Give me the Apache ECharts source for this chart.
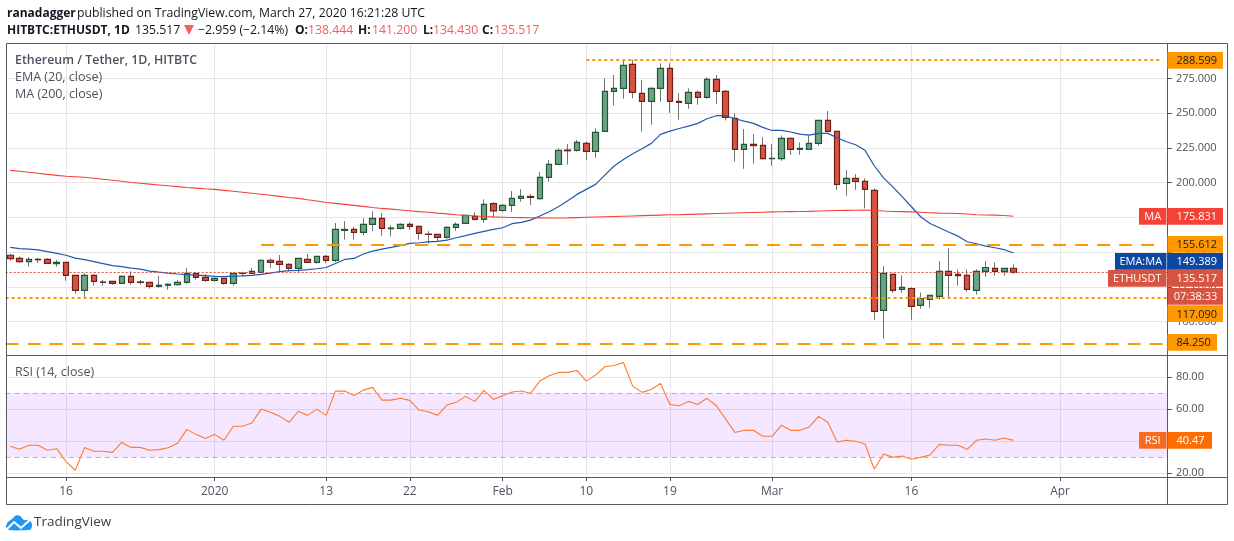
<!DOCTYPE html>
<html><head><meta charset="utf-8"><style>html,body{margin:0;padding:0;background:#fff}#c{width:1234px;height:541px}</style>
<script src="https://cdn.jsdelivr.net/npm/echarts@6/dist/echarts.min.js"></script></head><body><div id="c"></div>
<script>
const opens=[147.8,145.6,143.2,144.9,144.9,141.8,142.7,133.4,122.6,133.4,128.3,129,127.6,132.6,128.6,128.3,125.4,126.2,126.6,128.3,134.8,131.9,129.8,131.2,127.6,135,134.8,135.5,144.2,143.4,141.3,138.4,144.8,142.7,147,144.1,165.7,166.4,164.3,170,174.3,166.9,167.1,170,168.6,163,162.8,160.7,167.9,170.7,175.8,173.6,184.9,180,183.7,188.7,190.1,188.5,203.8,213.2,223.5,223.3,228.3,222.5,236.9,265.7,267.9,285.1,264.3,258.5,267.9,282.3,258.5,257.1,265,261.4,274.3,265.7,246.3,224,227.6,226.9,217.3,217.3,231.9,224,224,228.3,244.9,236.9,199.5,203.1,201,194.5,108.1,134,123.2,123.9,111.7,116,118.2,136.2,134,133.3,122.5,136.2,138.3,136.2,138.444];
const closes=[145.4,143.2,144.9,144.6,142,142.7,133.4,122.6,133.4,129,128.6,127.6,132.6,128.3,128.3,125.4,126.2,126.9,128.3,134.8,131.9,129.8,131.2,127.6,134.8,134.8,136.2,144.2,142.7,141.3,138.4,145.6,142.7,147,144.1,166.4,166.4,164.3,170,174.3,167.1,167.4,170,168.6,163.5,162.8,160.7,167.9,170,176.5,173.6,184.4,179.8,183.7,188.7,190.1,189.4,203.8,213.2,223.3,223,229,222.5,236.2,265.7,267.9,284.4,265,258.5,267.9,282.3,258.5,257.8,265,261.4,274.3,265.7,247,224,227.6,226.6,217.3,217.5,231.9,224,224.7,228.3,244.9,236.9,198.8,203.1,201,195.2,107.4,134.7,122.5,124.7,111,116.7,118.9,136.2,133.3,133.1,123.2,136.2,139,136.2,138.3,135.517];
const lows=[143.9,142.5,139.6,142.2,141.8,139.6,129.5,120.2,117.3,125.9,125.9,126.6,127.6,126.6,126.6,123.8,124.5,123,125.9,127.4,130.2,128.8,128.8,126.6,125.9,132.4,134.8,134.8,138.6,136.2,136.2,135,142.2,141.7,142.2,142.9,159,159,162.1,165,161.9,161.4,166.4,166.2,159,156.3,158,159.7,165.5,170.3,172.9,171.2,175,179.1,178.9,186.3,183.9,187.7,200.7,212.9,212.9,222.3,216.3,218,236.9,255.4,260.4,260.7,236.7,241.7,258.3,250.3,245.3,253.2,256.1,260.4,256.8,244.8,215.1,210,213.7,216.8,212.2,215.8,220.1,220.1,223.7,226.6,236.2,194.9,190.6,194.9,181.5,101.4,87.7,120.6,120.8,101.4,109.3,110,116,116.7,125.9,121.5,119.4,132.3,133.1,133.1,134.43];
const highs=[148.7,147,146.3,145.8,145.6,144.4,142.7,133.4,135,134.1,130,129.3,133.4,136.2,130,128.3,132.9,127.6,130,138.6,134.8,134.1,131.7,131.2,134.8,136,138.6,144.9,145.6,148,142,145.6,148.7,147,147.9,171,172.4,168.1,174.3,179.4,178.2,169.3,170.7,171.5,168.6,165.2,162.8,168.6,171.5,176.7,178.7,188,186.1,184.6,194,195.4,191.8,207.7,216.3,224.7,227.8,230.7,229.7,239.1,275,277.5,288.3,288.6,273.9,268.6,285.9,285.9,264.5,267.9,266.4,275.8,277.5,266.7,249.9,238.6,235,232.8,227.8,234,232.4,229,234,244.9,251.6,236.9,209.1,206.2,203.1,196,140,134.7,133.3,124.7,121,119.1,143.6,152.7,137.6,137.6,137.6,143.6,142.7,138.3,141.2];
const ema=[153.5,152.6,152.2,151.7,150.4,149.2,147.8,145.7,144.6,143.2,141.8,140.4,139.6,138.6,137.8,136.4,135.6,134.9,134.3,133.9,133.5,133.1,132.6,132.5,132.8,133,133.3,134,135,136,136.7,136.9,137.4,138.1,139,141.9,144.8,145.5,148.7,150.8,152.2,153.5,154.7,156.3,156.8,157.5,157.8,158.7,160.4,161.9,163.5,165,166.4,167.6,170.5,171.5,173.1,176,179.1,182.7,187,191.6,195.2,198.8,205.5,212,216.7,220.8,224.4,228.3,234.8,237.1,239,240.7,242.7,246,248.2,248.2,246,244.3,242.7,239.8,237.6,237.6,236.5,235,234.3,235.5,235.5,232.4,229.5,227.3,223.3,212.2,203.5,197,190,182.7,175.5,170.7,167.6,164.5,161.6,157.5,156.1,154.4,153.2,151.8,149.389];
const ma=[208.9,208.2,207.5,206.8,206,205.3,204.6,204.3,203.9,203.2,202.5,201.8,201,200.2,199.6,199,198.4,197.8,197.2,196.6,196.1,195.6,195.2,194.5,193.8,193.1,192.4,191.7,191,190.2,189.4,188.7,187.7,186.8,185.8,185.1,184.4,183.7,183,182.2,181.5,181,180.4,179.8,179.2,178.7,178.1,177.6,177,176.5,176.1,175.7,175.4,175.2,175,174.9,174.8,174.7,174.6,174.6,174.7,174.9,175.1,175.3,175.5,175.7,175.9,176.1,176.3,176.5,176.7,176.9,177,177.2,177.4,177.6,177.8,178,178.2,178.4,178.6,178.8,179,179.1,179.2,179.3,179.4,179.6,179.8,180,180.1,180.2,180.3,180,179.6,179.3,179.2,179,178.7,178.4,178.1,178,177.8,177.5,177,176.8,176.7,176.4,175.831];
const rsi=[36.8,34.9,37.4,37.4,34.3,35.3,27.2,21.9,36.1,33.7,33.7,33,39.2,36.1,36.1,34.3,34.7,35.9,38.6,47.3,44.2,41.7,44.2,40.5,49.2,49.2,51.2,59.9,57.9,55.4,51.7,58.5,56,59.9,56,71.1,71.1,68.4,71.7,73.4,65.5,65.5,66.6,65.3,59.3,58.3,56,62.4,64.1,67.8,64.7,71.5,65.9,68.2,70.5,71.1,69.7,77.3,80.6,82.7,82.7,83.9,77.3,81,86.2,87,88.9,74.2,70.3,72.1,75.9,62.8,62,64.7,62.8,66.6,62,53.7,45.4,46.7,46.7,43,43,49.8,46.7,46.7,48.8,55.4,51.7,39.5,40.5,39.9,38.2,22.5,32,29.9,30.8,28.7,29.9,31.4,38,37.4,37.4,34.9,40.5,41.3,40.5,41.9,40.47];
const priceTicks=[100,125,150,175,200,225,250,275];
const rsiTicks=[20,40,60,80];
const tickIndex=[6,22,34,43,53,62,71,82,97,113];
const tickText=['16','2020','13','22','Feb','10','19','Mar','16','Apr'];
const levelShort=[288.599,117.09];
const levelLong=[155.612,84.25];
const lastClose=135.517;

const categories=[];
{const d=new Date(Date.UTC(2019,11,10));for(let i=0;i<125;i++){categories.push(d.toISOString().slice(0,10));d.setUTCDate(d.getUTCDate()+1);}}
const FF='"Open Sans",sans-serif';
const AX='#4c525e', GRID='#e6e6e6', ORANGE='#ff9800';
const isTick=i=>tickIndex.indexOf(i)>=0;
const xAxisBase=(grid,show)=>({type:'category',gridIndex:grid,data:categories,boundaryGap:true,
  axisLine:{show:false},
  axisTick:{show:show,alignWithLabel:true,interval:isTick,length:4,lineStyle:{color:AX}},
  axisLabel:{show:show,interval:isTick,formatter:(v,i)=>tickText[tickIndex.indexOf(i)]||'',color:AX,fontFamily:FF,fontSize:12,margin:9,hideOverlap:false},
  splitLine:{show:true,alignWithLabel:true,interval:isTick,lineStyle:{color:GRID,width:1}}});
const yAxisBase=(grid,min,max,ticks,dec)=>({type:'value',gridIndex:grid,position:'right',min:min,max:max,scale:true,
  axisLine:{show:false},
  axisTick:{show:true,length:5,lineStyle:{color:AX},customValues:ticks},
  axisLabel:{color:AX,fontFamily:FF,fontSize:11,margin:9,padding:[5,0,0,0],customValues:ticks,formatter:v=>v.toFixed(dec),showMinLabel:true,showMaxLabel:true},
  splitLine:{show:true,lineStyle:{color:GRID,width:1}}});
const hLine=(v,start,dash,w)=>[{coord:[start,v],lineStyle:{color:ORANGE,type:dash,width:w}},{coord:[124,v]}];

// ----- overlay graphics (frame, header, tags) -----
const gfx=[];
const line=(x1,y1,x2,y2,c,w)=>gfx.push({type:'line',z:100,silent:true,shape:{x1,y1,x2,y2},style:{stroke:c,lineWidth:w||1}});
const text=(t,x,y,o)=>gfx.push({type:'text',z:120,silent:true,x,y,style:{text:t,font:(o&&o.font)||('12.25px '+FF),fill:(o&&o.fill)||'#131722',textVerticalAlign:'middle',textAlign:(o&&o.align)||'left'}});
gfx.push({type:'rect',z:90,silent:true,shape:{x:1168,y:477.5,width:58,height:26},style:{fill:'#fff'}});
gfx.push({type:'rect',z:100,silent:true,shape:{x:6.5,y:43.5,width:1221,height:461},style:{fill:'none',stroke:'#555a64',lineWidth:1}});
line(1167.5,44,1167.5,504,'#555a64');line(7,355.5,1227,355.5,'#555a64');line(7,477.5,1227,477.5,'#555a64');
const tag=(x,y,w,h,bg,t,fg,tick)=>{gfx.push({type:'rect',z:110,silent:true,shape:{x,y,width:w,height:h},style:{fill:bg}});
  text(t,x+(tick?9:w/2),y+h/2+0.8,{fill:fg,font:'11px '+FF,align:tick?'left':'center'});
  if(tick)line(x,y+h/2,x+5,y+h/2,fg);};
tag(1167.5,52,55.5,16.7,ORANGE,'288.599','#1c1c1c',1);
tag(1139,208,27.5,16.7,'#f44336','MA','#fff');tag(1167.5,208,55.5,16.7,'#f44336','175.831','#fff',1);
tag(1167.5,236,55.5,16.7,ORANGE,'155.612','#1c1c1c',1);
tag(1115,253,51.5,16.7,'#0d47a1','EMA:MA','#fff');tag(1167.5,253,55.5,16.7,'#0d47a1','149.389','#fff',1);
tag(1108,270,58.5,16.7,'#d75442','ETHUSDT','#fff');tag(1167.5,270,55.5,16.7,'#d75442','135.517','#fff',1);
tag(1168,288,55,16.7,'#d75442','07:38:33','#fff');
tag(1167.5,305.3,55.5,16.7,ORANGE,'117.090','#1c1c1c',1);
tag(1167.5,334,49.5,16.7,ORANGE,'84.250','#1c1c1c',1);
tag(1139,432,27.5,16.7,'#f96a1f','RSI','#fff');tag(1167.5,432,44.5,16.7,'#ff6d00','40.47','#fff',1);
// header
text('ranadagger',7,13.7,{font:'bold 12px '+FF});
text('published on TradingView.com, March 27, 2020 16:21:28 UTC',77,13.7);
text('HITBTC:ETHUSDT, 1D',7,30.7,{font:'bold 12px '+FF});
text('135.517',135,30.7);
gfx.push({type:'polygon',z:120,silent:true,shape:{points:[[184,25],[194,25],[189,35]]},style:{fill:'#f4605c'}});
text('\u22122.959 (\u22122.14%)',198,30.7);
[['O:',295,'138.444',308],['H:',358,'141.200',372],['L:',423,'134.430',433],['C:',482,'135.517',494]].forEach(r=>{
  text(r[0],r[1],30.7,{font:'bold 12px '+FF});text(r[2],r[3],30.7,{fill:'#f4605c'});});
// legends
text('Ethereum / Tether, 1D, HITBTC',15,60.6,{font:'600 12.4px '+FF,fill:AX});
text('EMA (20, close)',15,77.6,{font:'12.5px '+FF,fill:AX});
text('MA (200, close)',15,94.6,{font:'12.5px '+FF,fill:AX});
text('RSI (14, close)',15,372.6,{font:'12.5px '+FF,fill:AX});
// logo
gfx.push({type:'polygon',z:120,silent:true,shape:{smooth:0.3,points:[[6,527],[8,522],[12,519],[16,515.5],[20,516],[24,520],[29,520],[32,524],[31,529],[28,530],[9,530]]},style:{fill:'#2196f3'}});
gfx.push({type:'polyline',z:121,silent:true,shape:{points:[[6,530],[14,522],[21,528],[32,518]]},style:{stroke:'#fff',lineWidth:2,fill:'none'}});
text('TradingView',34,522.6,{font:'13.5px '+FF,fill:'#3c4043'});

const chart=echarts.init(document.getElementById('c'),null,{width:1234,height:541});
chart.setOption({animation:false,backgroundColor:'#fff',
  grid:[{left:5.65,top:44,width:1161.25,height:311,outerBoundsMode:'none'},{left:5.65,top:356,width:1161.25,height:121,outerBoundsMode:'none'}],
  xAxis:[xAxisBase(0,false),xAxisBase(1,true)],
  yAxis:[yAxisBase(0,76.04,299.8,priceTicks,3),yAxisBase(1,17.7,92.9,rsiTicks,2)],
  graphic:{elements:gfx},
  series:[
   {type:'candlestick',name:'wick',xAxisIndex:0,yAxisIndex:0,barWidth:1,z:2,
    data:opens.map((o,i)=>[o,closes[i],lows[i],highs[i]]),
    itemStyle:{color:'#737375',color0:'#737375',borderColor:'#737375',borderColor0:'#737375',borderWidth:1}},
   {type:'candlestick',name:'body',xAxisIndex:0,yAxisIndex:0,barWidth:6,z:3,
    data:opens.map((o,i)=>[o,closes[i],Math.min(o,closes[i]),Math.max(o,closes[i])]),
    itemStyle:{color:'#6ba583',color0:'#d75442',borderColor:'#225437',borderColor0:'#6e1f16',borderWidth:1.2}},
   {type:'line',name:'EMA',xAxisIndex:0,yAxisIndex:0,data:ema,showSymbol:false,symbol:'none',z:4,lineStyle:{color:'#2258ab',width:1.2}},
   {type:'line',name:'MA',xAxisIndex:0,yAxisIndex:0,data:ma,showSymbol:false,symbol:'none',z:4,lineStyle:{color:'#f44336',width:1.1},
    markLine:{silent:true,symbol:'none',label:{show:false},animation:false,z:5,data:[
      hLine(levelShort[0],62,[3,3],2),
      {yAxis:levelShort[1],lineStyle:{color:ORANGE,type:[3,3],width:2}},
      hLine(levelLong[0],27,[13,9],2),
      {yAxis:levelLong[1],lineStyle:{color:ORANGE,type:[13,9],width:2}},
      {yAxis:lastClose,lineStyle:{color:'#d75442',type:[2,2],width:1}}
    ]}},
   {type:'line',name:'RSI',xAxisIndex:1,yAxisIndex:1,data:rsi,showSymbol:false,symbol:'none',z:4,lineStyle:{color:'#ff7a2e',width:1.1},
    markArea:{silent:true,itemStyle:{color:'rgba(153,21,255,0.1)'},data:[[{yAxis:70},{yAxis:30}]]},
    markLine:{silent:true,symbol:'none',label:{show:false},lineStyle:{color:'#b9b0be',type:[5,4],width:1},data:[{yAxis:70},{yAxis:30}]}}
  ]});
</script></body></html>
